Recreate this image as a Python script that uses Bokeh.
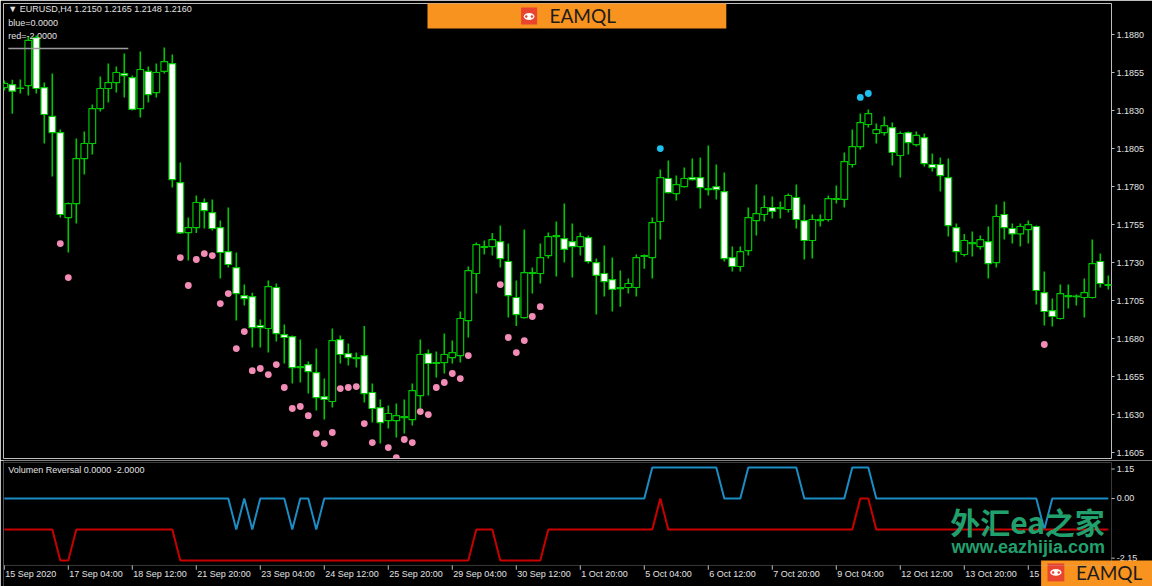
from bokeh.plotting import figure
from bokeh.models import Range1d, FixedTicker, PrintfTickFormatter, BoxAnnotation, ColumnDataSource
from bokeh.layouts import column
from bokeh.core.properties import value
from bokeh.embed import file_html
from bokeh.resources import INLINE

# ---------------- data (EURUSD H4, bar index 0 = 15 Sep 2020 20:00) ----------------
opens = [
    1.18451, 1.18471, 1.18448, 1.18464, 1.18780, 1.18451, 1.18261, 1.18155, 1.17596, 1.17688,
    1.17984, 1.18083, 1.18313, 1.18445, 1.18484, 1.18543, 1.18517, 1.18313, 1.18557, 1.18418,
    1.18557, 1.18609, 1.17826, 1.17497, 1.17530, 1.17695, 1.17629, 1.17530, 1.17372, 1.17267,
    1.17083, 1.17076, 1.16886, 1.16866, 1.17136, 1.16826, 1.16813, 1.16609, 1.16629, 1.16576,
    1.16418, 1.16386, 1.16793, 1.16701, 1.16668, 1.16688, 1.16445, 1.16346, 1.16260, 1.16260,
    1.16280, 1.16267, 1.16425, 1.16701, 1.16636, 1.16642, 1.16675, 1.16688, 1.16918, 1.17228,
    1.17399, 1.17405, 1.17438, 1.17307, 1.17070, 1.16938, 1.17228, 1.17228, 1.17346, 1.17471,
    1.17458, 1.17438, 1.17405, 1.17464, 1.17300, 1.17228, 1.17188, 1.17129, 1.17136, 1.17136,
    1.17340, 1.17333, 1.17570, 1.17853, 1.17754, 1.17800, 1.17859, 1.17859, 1.17780, 1.17800,
    1.17767, 1.17333, 1.17274, 1.17379, 1.17576, 1.17616, 1.17662, 1.17655, 1.17649, 1.17728,
    1.17576, 1.17445, 1.17576, 1.17583, 1.17715, 1.17715, 1.17945, 1.18063, 1.18208, 1.18149,
    1.18155, 1.18188, 1.18004, 1.18155, 1.18076, 1.18122, 1.17945, 1.17945, 1.17859, 1.17530,
    1.17353, 1.17425, 1.17405, 1.17438, 1.17300, 1.17616, 1.17524, 1.17488, 1.17517, 1.17537,
    1.17102, 1.16984, 1.16932, 1.17076, 1.17076, 1.17070, 1.17070, 1.17307, 1.17149,
]
highs = [
    1.18497, 1.18502, 1.18504, 1.18787, 1.18793, 1.18484, 1.18543, 1.18175, 1.17695, 1.18116,
    1.18162, 1.18340, 1.18524, 1.18609, 1.18590, 1.18675, 1.18530, 1.18688, 1.18590, 1.18609,
    1.18715, 1.18668, 1.17958, 1.17596, 1.17741, 1.17721, 1.17715, 1.17576, 1.17662, 1.17366,
    1.17155, 1.17102, 1.16925, 1.17182, 1.17162, 1.16892, 1.16820, 1.16793, 1.16649, 1.16734,
    1.16537, 1.16866, 1.16820, 1.16767, 1.16708, 1.16882, 1.16504, 1.16399, 1.16359, 1.16372,
    1.16399, 1.16504, 1.16793, 1.16728, 1.16715, 1.16833, 1.16787, 1.16978, 1.17274, 1.17432,
    1.17445, 1.17495, 1.17543, 1.17425, 1.17182, 1.17517, 1.17267, 1.17425, 1.17497, 1.17570,
    1.17688, 1.17557, 1.17497, 1.17478, 1.17326, 1.17412, 1.17333, 1.17247, 1.17195, 1.17353,
    1.17353, 1.17596, 1.17912, 1.17971, 1.17872, 1.17925, 1.17984, 1.17991, 1.18070, 1.17945,
    1.17892, 1.17405, 1.17405, 1.17662, 1.17813, 1.17741, 1.17734, 1.17701, 1.17754, 1.17813,
    1.17682, 1.17616, 1.17616, 1.17741, 1.17807, 1.18024, 1.18175, 1.18280, 1.18307, 1.18214,
    1.18261, 1.18221, 1.18162, 1.18162, 1.18162, 1.18149, 1.18017, 1.17991, 1.17984, 1.17557,
    1.17488, 1.17504, 1.17478, 1.17537, 1.17682, 1.17701, 1.17557, 1.17557, 1.17576, 1.17543,
    1.17241, 1.17063, 1.17155, 1.17155, 1.17089, 1.17195, 1.17451, 1.17359, 1.17215,
]
lows = [
    1.18432, 1.18278, 1.18412, 1.18399, 1.18412, 1.18083, 1.17866, 1.17596, 1.17366, 1.17557,
    1.17879, 1.18011, 1.18293, 1.18353, 1.18418, 1.18386, 1.18300, 1.18254, 1.18353, 1.18386,
    1.18543, 1.17793, 1.17488, 1.17313, 1.17495, 1.17524, 1.17511, 1.17195, 1.17267, 1.16918,
    1.17017, 1.16741, 1.16741, 1.16708, 1.16780, 1.16636, 1.16504, 1.16511, 1.16438, 1.16326,
    1.16267, 1.16346, 1.16636, 1.16622, 1.16609, 1.16379, 1.16247, 1.16109, 1.16208, 1.16149,
    1.16175, 1.16228, 1.16340, 1.16425, 1.16543, 1.16570, 1.16636, 1.16642, 1.16807, 1.17096,
    1.17353, 1.17346, 1.17267, 1.16938, 1.16882, 1.16932, 1.17096, 1.17162, 1.17326, 1.17208,
    1.17300, 1.17201, 1.17346, 1.17293, 1.16958, 1.17076, 1.16978, 1.17010, 1.17096, 1.17076,
    1.17260, 1.17195, 1.17451, 1.17754, 1.17708, 1.17794, 1.17839, 1.17655, 1.17741, 1.17715,
    1.17307, 1.17241, 1.17241, 1.17346, 1.17478, 1.17570, 1.17589, 1.17589, 1.17629, 1.17524,
    1.17320, 1.17326, 1.17537, 1.17570, 1.17688, 1.17662, 1.17925, 1.18043, 1.18188, 1.18083,
    1.18136, 1.17938, 1.17859, 1.18011, 1.18063, 1.17932, 1.17899, 1.17767, 1.17471, 1.17300,
    1.17340, 1.17340, 1.17386, 1.17195, 1.17267, 1.17451, 1.17425, 1.17405, 1.17425, 1.17024,
    1.16886, 1.16879, 1.16925, 1.16997, 1.17017, 1.16938, 1.17063, 1.17136, 1.17123,
]
closes = [
    1.18478, 1.18427, 1.18445, 1.18761, 1.18445, 1.18274, 1.18155, 1.17616, 1.17688, 1.17984,
    1.18083, 1.18313, 1.18445, 1.18484, 1.18550, 1.18530, 1.18307, 1.18570, 1.18405, 1.18550,
    1.18622, 1.17846, 1.17495, 1.17530, 1.17695, 1.17642, 1.17524, 1.17366, 1.17287, 1.17096,
    1.17063, 1.16872, 1.16872, 1.17142, 1.16833, 1.16807, 1.16609, 1.16616, 1.16583, 1.16412,
    1.16399, 1.16787, 1.16695, 1.16675, 1.16675, 1.16438, 1.16340, 1.16247, 1.16307, 1.16293,
    1.16287, 1.16458, 1.16695, 1.16636, 1.16642, 1.16695, 1.16708, 1.16932, 1.17247, 1.17418,
    1.17405, 1.17451, 1.17326, 1.17083, 1.16958, 1.17234, 1.17234, 1.17333, 1.17471, 1.17478,
    1.17386, 1.17405, 1.17471, 1.17307, 1.17215, 1.17175, 1.17123, 1.17136, 1.17162, 1.17333,
    1.17346, 1.17563, 1.17859, 1.17760, 1.17813, 1.17853, 1.17846, 1.17793, 1.17787, 1.17780,
    1.17326, 1.17274, 1.17372, 1.17596, 1.17622, 1.17662, 1.17636, 1.17662, 1.17741, 1.17583,
    1.17445, 1.17583, 1.17583, 1.17721, 1.17721, 1.17964, 1.18063, 1.18221, 1.18280, 1.18175,
    1.18201, 1.18024, 1.18149, 1.18089, 1.18136, 1.17951, 1.17925, 1.17872, 1.17543, 1.17372,
    1.17445, 1.17432, 1.17451, 1.17293, 1.17603, 1.17530, 1.17488, 1.17537, 1.17550, 1.17116,
    1.16978, 1.16945, 1.17096, 1.17083, 1.17080, 1.17102, 1.17293, 1.17162, 1.17155,
]

# signal dots: bar index -> price
pink_idx = [7, 8, 22, 23, 24, 25, 26, 27, 28, 29, 30, 31, 32, 33, 34, 35, 36, 37, 38, 39,
            40, 41, 42, 43, 44, 45, 46, 48, 49, 50, 51, 52, 53, 54, 55, 56, 57, 58,
            62, 63, 64, 65, 66, 67, 130]
pink_val = [1.17425, 1.17201, 1.17333, 1.17149, 1.17320, 1.17359, 1.17346, 1.17030, 1.17096, 1.16734,
            1.16846, 1.16589, 1.16603, 1.16563, 1.16629, 1.16478, 1.16340, 1.16353, 1.16293, 1.16175,
            1.16109, 1.16182, 1.16471, 1.16478, 1.16484, 1.16241, 1.16116, 1.16083, 1.16017, 1.16136,
            1.16116, 1.16320, 1.16300, 1.16478, 1.16511, 1.16570, 1.16537, 1.16688,
            1.17155, 1.16807, 1.16708, 1.16787, 1.16945, 1.17010, 1.16761]
cyan_idx = [82, 107, 108]
cyan_val = [1.18050, 1.18386, 1.18412]

# "Volumen Reversal" indicator lines
blue_line = [
    0, 0, 0, 0, 0, 0, 0, 0, 0, 0,
    0, 0, 0, 0, 0, 0, 0, 0, 0, 0,
    0, 0, 0, 0, 0, 0, 0, 0, 0, -2,
    0, -2, 0, 0, 0, 0, -2, 0, 0, -2,
    0, 0, 0, 0, 0, 0, 0, 0, 0, 0,
    0, 0, 0, 0, 0, 0, 0, 0, 0, 0,
    0, 0, 0, 0, 0, 0, 0, 0, 0, 0,
    0, 0, 0, 0, 0, 0, 0, 0, 0, 0,
    0, 2, 2, 2, 2, 2, 2, 2, 2, 2,
    0, 0, 0, 2, 2, 2, 2, 2, 2, 2,
    0, 0, 0, 0, 0, 0, 2, 2, 2, 0,
    0, 0, 0, 0, 0, 0, 0, 0, 0, 0,
    0, 0, 0, 0, 0, 0, 0, 0, 0, 0,
    -2, 0, 0, 0, 0, 0, 0, 0, 0,
]
red_line = [
    -2, -2, -2, -2, -2, -2, -2, -4, -4, -2,
    -2, -2, -2, -2, -2, -2, -2, -2, -2, -2,
    -2, -2, -4, -4, -4, -4, -4, -4, -4, -4,
    -4, -4, -4, -4, -4, -4, -4, -4, -4, -4,
    -4, -4, -4, -4, -4, -4, -4, -4, -4, -4,
    -4, -4, -4, -4, -4, -4, -4, -4, -4, -2,
    -2, -2, -4, -4, -4, -4, -4, -4, -2, -2,
    -2, -2, -2, -2, -2, -2, -2, -2, -2, -2,
    -2, -2, 0, -2, -2, -2, -2, -2, -2, -2,
    -2, -2, -2, -2, -2, -2, -2, -2, -2, -2,
    -2, -2, -2, -2, -2, -2, -2, 0, 0, -2,
    -2, -2, -2, -2, -2, -2, -2, -2, -2, -2,
    -2, -2, -2, -2, -2, -2, -2, -2, -2, -2,
    -2, -2, -2, -2, -2, -2, -2, -2, -2,
]

price_ticks = [1.1605, 1.1630, 1.1655, 1.1680, 1.1705, 1.1730, 1.1755,
               1.1780, 1.1805, 1.1830, 1.1855, 1.1880]
time_tick_idx = [0, 8, 16, 24, 32, 40, 48, 56, 64, 72, 80, 88, 96, 104, 112, 120, 128]
time_tick_labels = ["15 Sep 2020", "17 Sep 04:00", "18 Sep 12:00", "21 Sep 20:00", "23 Sep 04:00",
                    "24 Sep 12:00", "25 Sep 20:00", "29 Sep 04:00", "30 Sep 12:00", "1 Oct 20:00",
                    "5 Oct 04:00", "6 Oct 12:00", "7 Oct 20:00", "9 Oct 04:00", "12 Oct 12:00",
                    "13 Oct 20:00", "15 Oct 04:00"]
ind_tick_vals = [1.9, 0.0, -3.85]
ind_tick_labels = ["1.15", "0.00", "-2.15"]

# ---------------- styling / layout ----------------
GREEN = "#00c800"
PINK = "#f28cb6"
CYAN = "#1ec0f0"
BLUE = "#1b8cc4"
RED = "#c80000"
GREY = "#bdbdbd"
TXT = "#e2e2e2"
ORANGE = "#f7931e"
LOGO_RED = "#e8442e"
FONT = value("Liberation Sans")

W, H_MAIN, H_SUB = 1152, 460, 126
LB, RB = 3, 41
frame_w = W - LB - RB
X0, X1 = -0.1, 138.4
ppb = frame_w / (X1 - X0)
SUB_X1 = X0 + (W - LB) / ppb

idx = list(range(len(opens)))
src = ColumnDataSource(dict(
    x=idx, o=opens, h=highs, l=lows, c=closes,
    top=[max(o, c) for o, c in zip(opens, closes)],
    bot=[min(o, c) for o, c in zip(opens, closes)],
    fill=["black" if c >= o else "white" for o, c in zip(opens, closes)],
))

p = figure(width=W, height=H_MAIN, x_range=Range1d(X0, X1), y_range=Range1d(1.16011, 1.19004),
           output_backend="svg", toolbar_location=None, x_axis_location=None,
           y_axis_location="right", min_border_left=LB, min_border_right=RB,
           min_border_top=3, min_border_bottom=2, background_fill_color="black",
           border_fill_color="black", outline_line_color=GREY, outline_line_width=1)
p.grid.visible = False
ax = p.yaxis[0]
ax.ticker = FixedTicker(ticks=price_ticks)
ax.formatter = PrintfTickFormatter(format="%.4f")
ax.major_tick_out = 3
ax.major_tick_in = 0
ax.minor_tick_line_color = None
ax.axis_line_color = None
ax.major_tick_line_color = GREY
ax.major_label_text_color = TXT
ax.major_label_text_font = "Liberation Sans"
ax.major_label_text_font_size = "9px"
ax.major_label_standoff = 2

p.segment(x0="x", y0="l", x1="x", y1="h", source=src, line_color=GREEN, line_width=1.6)
p.vbar(x="x", top="top", bottom="bot", width=0.84, fill_color="fill", line_color=GREEN,
       line_width=1.2, source=src)
p.scatter(pink_idx, pink_val, size=6.8, color=PINK, line_color=None)
p.scatter(cyan_idx, cyan_val, size=6.8, color=CYAN, line_color=None)

p.text(x=[0.5, 0.5, 0.5], y=[1.18971, 1.18879, 1.18793],
       text=["\u25bc EURUSD,H4  1.2150 1.2165 1.2148 1.2160", "blue=0.0000", "red=-2.0000"],
       text_font=FONT, text_font_size=value("9px"), text_color=TXT,
       text_align="left", text_baseline="middle")
p.segment(x0=[0.5], y0=[1.18708], x1=[15.5], y1=[1.18708], line_color="#9a9a9a", line_width=1.5)

# top banner watermark
p.quad(left=[52.9], right=[90.25], top=[1.1905], bottom=[1.18839], fill_color=ORANGE, line_color=None)
p.quad(left=[64.6], right=[66.6], top=[1.18978], bottom=[1.18866], fill_color=LOGO_RED, line_color=None)
p.ellipse(x=[65.6], y=[1.18918], width=1.35, height=0.00046, fill_color="white", line_color=None)
p.scatter([65.25, 65.95], [1.18918, 1.18918], size=2.5, color=LOGO_RED, line_color=None)
p.text(x=[72.3], y=[1.18925], text=["EAMQL"], text_font=value("Lato"),
       text_font_size=value("19px"), text_color="#1c1c1c", text_align="center",
       text_baseline="middle")

# ---------------- indicator panel ----------------
s = figure(width=W, height=H_SUB, x_range=Range1d(X0, SUB_X1), y_range=Range1d(-5.68, 2.45),
           output_backend="svg", toolbar_location=None, x_axis_location=None,
           y_axis_location=None, min_border_left=LB, min_border_right=0, min_border_top=0,
           min_border_bottom=0, background_fill_color="black", border_fill_color="black",
           outline_line_color=None)
s.grid.visible = False
s.add_layout(BoxAnnotation(left=X0, right=X1, top=2.32, bottom=-4.32, fill_color=None,
                           line_color=GREY, line_width=1))
s.line(idx, blue_line, line_color=BLUE, line_width=2)
s.line(idx, red_line, line_color=RED, line_width=2)
s.text(x=[0.5], y=[1.81], text=["Volumen Reversal 0.0000 -2.0000"], text_font=FONT,
       text_font_size=value("9px"), text_color=TXT, text_align="left", text_baseline="middle")

# right scale of the indicator panel
s.segment(x0=[X1] * 3, x1=[X1 + 0.4] * 3, y0=ind_tick_vals, y1=ind_tick_vals,
          line_color=GREY, line_width=1)
s.text(x=[X1 + 0.65] * 3, y=ind_tick_vals, text=ind_tick_labels, text_font=FONT,
       text_font_size=value("9px"), text_color=TXT, text_align="left", text_baseline="middle")

# time axis
s.segment(x0=time_tick_idx, x1=time_tick_idx, y0=[-4.32] * len(time_tick_idx),
          y1=[-4.6] * len(time_tick_idx), line_color=GREY, line_width=1)
s.text(x=time_tick_idx, y=[-4.88] * len(time_tick_idx), text=time_tick_labels, x_offset=1,
       text_font=FONT, text_font_size=value("9px"), text_color=TXT, text_align="left",
       text_baseline="middle")

# green watermark
s.text(x=[127.9], y=[-1.48], text=["外汇ea之家"], text_font=value("Noto Sans CJK SC"),
       text_font_size=value("30px"), text_font_style="bold", text_color="#21a06e",
       text_align="center", text_baseline="middle")
s.text(x=[128.0], y=[-3.16], text=["www.eazhijia.com"], text_font=value("Liberation Sans"),
       text_font_size=value("18px"), text_font_style="bold", text_color="#21a06e",
       text_align="center", text_baseline="middle")

# bottom-right logo
s.quad(left=[129.6], right=[SUB_X1 + 1], top=[-4.0], bottom=[-5.9], fill_color=ORANGE, line_color=None)
s.quad(left=[130.4], right=[132.5], top=[-4.19], bottom=[-5.35], fill_color=LOGO_RED, line_color=None)
s.ellipse(x=[131.45], y=[-4.77], width=1.4, height=0.45, fill_color="white", line_color=None)
s.scatter([131.1, 131.8], [-4.77, -4.77], size=2.5, color=LOGO_RED, line_color=None)
s.text(x=[138.1], y=[-4.77], text=["EAMQL"], text_font=value("Lato"),
       text_font_size=value("19px"), text_color="#1c1c1c", text_align="center",
       text_baseline="middle")

# keep each panel's own frame (no automatic frame alignment in the column)
for fig in (p, s):
    if "frame_align" in fig.properties():
        fig.frame_align = False

layout = column(p, s, spacing=0)
open("out.html", "w").write(file_html(layout, INLINE))
